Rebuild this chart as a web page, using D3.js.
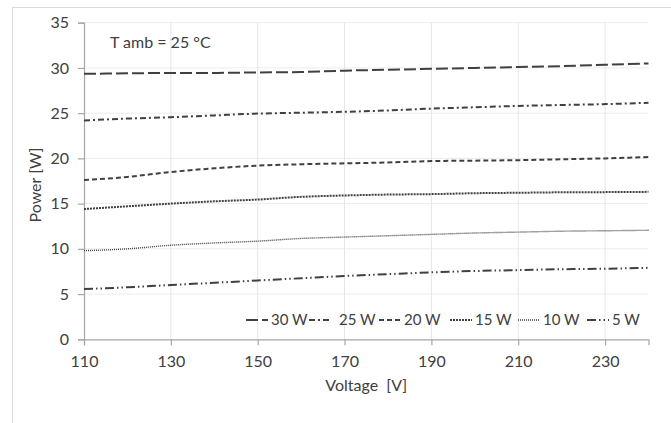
<!DOCTYPE html>
<html>
<head>
<meta charset="utf-8">
<script src="https://cdn.jsdelivr.net/npm/d3@7"></script>
<style>
  body { margin: 0; background: #fff; }
  text { font-family: Lato, "Open Sans", sans-serif; fill: #404040; }
</style>
</head>
<body>
<svg id="chart"></svg>
<script>
const WIDTH = 671;
const HEIGHT = 423;
const MARGIN = { top: 22.7, right: 22.5, bottom: 83.7, left: 84 };

const voltages = [110, 120, 130, 140, 150, 160, 170, 180, 190, 200, 210, 220, 230, 240];
const p30 = [29.35, 29.4, 29.45, 29.45, 29.5, 29.55, 29.7, 29.8, 29.9, 30.0, 30.1, 30.2, 30.35, 30.5];
const p25 = [24.2, 24.4, 24.55, 24.75, 24.95, 25.05, 25.15, 25.3, 25.5, 25.65, 25.8, 25.9, 26.0, 26.15];
const p20 = [17.6, 17.95, 18.5, 18.9, 19.2, 19.35, 19.45, 19.55, 19.7, 19.75, 19.8, 19.9, 20.0, 20.15];
const p15 = [14.4, 14.7, 15.0, 15.25, 15.45, 15.75, 15.9, 16.0, 16.05, 16.15, 16.2, 16.25, 16.27, 16.3];
const p10 = [9.8, 10.0, 10.4, 10.65, 10.85, 11.15, 11.3, 11.45, 11.6, 11.75, 11.85, 11.95, 12.0, 12.05];
const p5 = [5.55, 5.75, 6.0, 6.25, 6.5, 6.75, 7.0, 7.2, 7.4, 7.55, 7.65, 7.75, 7.8, 7.9];

const seriesNames = ["30 W", "25 W", "20 W", "15 W", "10 W", "5 W"];
const seriesValues = [p30, p25, p20, p15, p10, p5];
const xTicks = [110, 130, 150, 170, 190, 210, 230];
const yTicks = [0, 5, 10, 15, 20, 25, 30, 35];

// line styles per series (same order as seriesNames)
const STYLES = [
    { dash: "12,4", width: 2 },
    { dash: "6,3,2,3", width: 2 },
    { dash: "5,3", width: 2 },
    { dash: "2,1", width: 2 },
    { dash: "1,1", width: 1.4 },
    { dash: "9,3,1.5,3,1.5,3", width: 2 }
];

const FONT = "16px";

const svg = d3.select("#chart")
    .attr("width", WIDTH)
    .attr("height", HEIGHT);

// outer chart border
svg.append("rect")
    .attr("x", 12.5).attr("y", 7.5)
    .attr("width", 700).attr("height", 500)
    .attr("fill", "#fff")
    .attr("stroke", "#d9d9d9");

const x = d3.scaleLinear()
    .domain([110, 240])
    .range([MARGIN.left, WIDTH - MARGIN.right]);

const y = d3.scaleLinear()
    .domain([0, 35])
    .range([HEIGHT - MARGIN.bottom, MARGIN.top]);

// gridlines
svg.append("g")
    .selectAll("line.h")
    .data(yTicks.filter(d => d > 0))
    .enter().append("line")
    .attr("x1", x(110)).attr("x2", x(240))
    .attr("y1", d => y(d)).attr("y2", d => y(d))
    .attr("stroke", "#ececec");

svg.append("g")
    .selectAll("line.v")
    .data(xTicks.filter(d => d > 110))
    .enter().append("line")
    .attr("x1", d => x(d)).attr("x2", d => x(d))
    .attr("y1", y(0)).attr("y2", y(35))
    .attr("stroke", "#e6e6e6");

// axes
const xAxis = svg.append("g")
    .attr("transform", `translate(0,${y(0)})`)
    .call(d3.axisBottom(x).tickValues(xTicks).tickSize(6).tickPadding(10).tickFormat(d3.format("d")));

const yAxis = svg.append("g")
    .attr("transform", `translate(${x(110)},0)`)
    .call(d3.axisLeft(y).tickValues(yTicks).tickSize(6).tickPadding(9).tickFormat(d3.format("d")));

[xAxis, yAxis].forEach(ax => {
    ax.select(".domain").attr("stroke", "#a6a6a6").attr("stroke-width", 1.2);
    ax.selectAll(".tick line").attr("stroke", "#a6a6a6").attr("stroke-width", 1.2);
    ax.selectAll(".tick text").style("font-size", FONT).attr("fill", "#404040");
});

// series lines
const line = d3.line()
    .x((d, i) => x(voltages[i]))
    .y(d => y(d))
    .curve(d3.curveMonotoneX);

svg.append("g")
    .selectAll("path")
    .data(seriesValues)
    .enter().append("path")
    .attr("d", d => line(d))
    .attr("fill", "none")
    .attr("stroke", "#404040")
    .attr("stroke-width", (d, i) => STYLES[i].width)
    .attr("stroke-dasharray", (d, i) => STYLES[i].dash);

// legend
const legendX = [246, 309, 379, 450, 518, 587];
const legend = svg.append("g")
    .selectAll("g")
    .data(seriesNames)
    .enter().append("g")
    .attr("transform", (d, i) => `translate(${legendX[i]},320)`);

legend.append("line")
    .attr("x1", 0).attr("x2", 22)
    .attr("stroke", "#404040")
    .attr("stroke-width", (d, i) => STYLES[i].width)
    .attr("stroke-dasharray", (d, i) => STYLES[i].dash);

legend.append("text")
    .attr("x", (d, i) => i === 1 ? 30 : 25)
    .attr("dy", "0.35em")
    .style("font-size", "15px")
    .text(d => d);

// annotation
svg.append("text")
    .attr("x", 110).attr("y", 48)
    .style("font-size", FONT)
    .text("T amb = 25 °C");

// axis titles
svg.append("text")
    .attr("x", (x(110) + x(240)) / 2)
    .attr("y", 391)
    .attr("text-anchor", "middle")
    .style("font-size", FONT)
    .attr("xml:space", "preserve")
    .text("Voltage  [V]");

svg.append("text")
    .attr("transform", `translate(41,${(y(0) + y(35)) / 2 + 4}) rotate(-90)`)
    .attr("text-anchor", "middle")
    .style("font-size", FONT)
    .text("Power [W]");
</script>
</body>
</html>
